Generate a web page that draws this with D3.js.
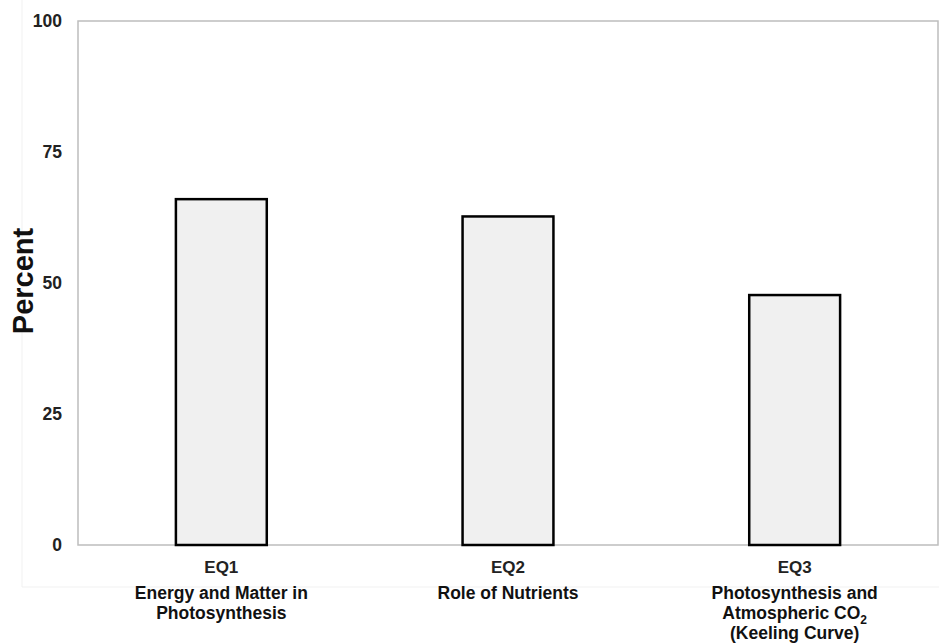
<!DOCTYPE html>
<html><head><meta charset="utf-8">
<script src="https://cdn.jsdelivr.net/npm/d3@7"></script>
<style>body{margin:0;background:#fff;}svg{display:block;font-family:"Liberation Sans",Arial,sans-serif;}</style>
</head><body>
<svg id="c" width="939" height="644"></svg>
<script>
const categories = ["EQ1","EQ2","EQ3"];
const descriptions = [
  ["Energy and Matter in","Photosynthesis"],
  ["Role of Nutrients"],
  ["Photosynthesis and","Atmospheric CO|2","(Keeling Curve)"]
];
const values = [66.0, 62.7, 47.7];
const yTicks = [0,25,50,75,100];

const svg = d3.select("#c");
const m = {left:78, right:1, top:21, bottom:99};
const W = 939, H = 644;
const x = d3.scaleBand().domain(categories).range([m.left, W - m.right]).paddingInner(0.683).paddingOuter(0.3415);
const y = d3.scaleLinear().domain([0,100]).range([H - m.bottom, m.top]);

// faint outer frame
svg.append("path").attr("d", `M22,0V587H939`).attr("fill","none").attr("stroke","#f1f1f1").attr("stroke-width",1);

// plot frame
svg.append("rect").attr("x", m.left).attr("y", m.top).attr("width", W - m.right - m.left).attr("height", y(0) - m.top)
  .attr("fill","none").attr("stroke","#bdbdbd").attr("stroke-width",1.5);

// y axis ticks
const yAxis = d3.axisLeft(y).tickValues(yTicks).tickSize(0).tickPadding(16);
const ga = svg.append("g").attr("transform",`translate(${m.left},0)`).call(yAxis);
ga.select(".domain").remove();
ga.selectAll("text").attr("font-size",17.5).attr("font-weight","bold").attr("fill","#222").attr("font-family","Liberation Sans, Arial, sans-serif");

// bars
svg.selectAll("rect.bar").data(values).join("rect").attr("class","bar")
  .attr("x",(d,i)=>x(categories[i])).attr("width",x.bandwidth())
  .attr("y",d=>y(d)).attr("height",d=>y(0)-y(d))
  .attr("fill","#f0f0f0").attr("stroke","#000").attr("stroke-width",2.5);

// x labels
const gx = svg.append("g");
categories.forEach((c,i)=>{
  const cx = x(c) + x.bandwidth()/2;
  gx.append("text").attr("x",cx).attr("y",573).attr("text-anchor","middle")
    .attr("font-size",17).attr("font-weight","bold").attr("fill","#222").text(c);
  descriptions[i].forEach((line,j)=>{
    const t = gx.append("text").attr("x",cx).attr("y",599 + j*20).attr("text-anchor","middle")
      .attr("font-size",17.5).attr("font-weight","bold").attr("fill","#111");
    if (line.includes("|")) {
      const [a,b] = line.split("|");
      t.append("tspan").text(a);
      t.append("tspan").attr("font-size",12).attr("dy",5).text(b);
    } else t.text(line);
  });
});

// y title
svg.append("text").attr("transform",`translate(33,${y(50)-2}) rotate(-90)`).attr("text-anchor","middle")
  .attr("font-size",29).attr("font-weight","bold").attr("fill","#111").text("Percent");
</script>
</body></html>
